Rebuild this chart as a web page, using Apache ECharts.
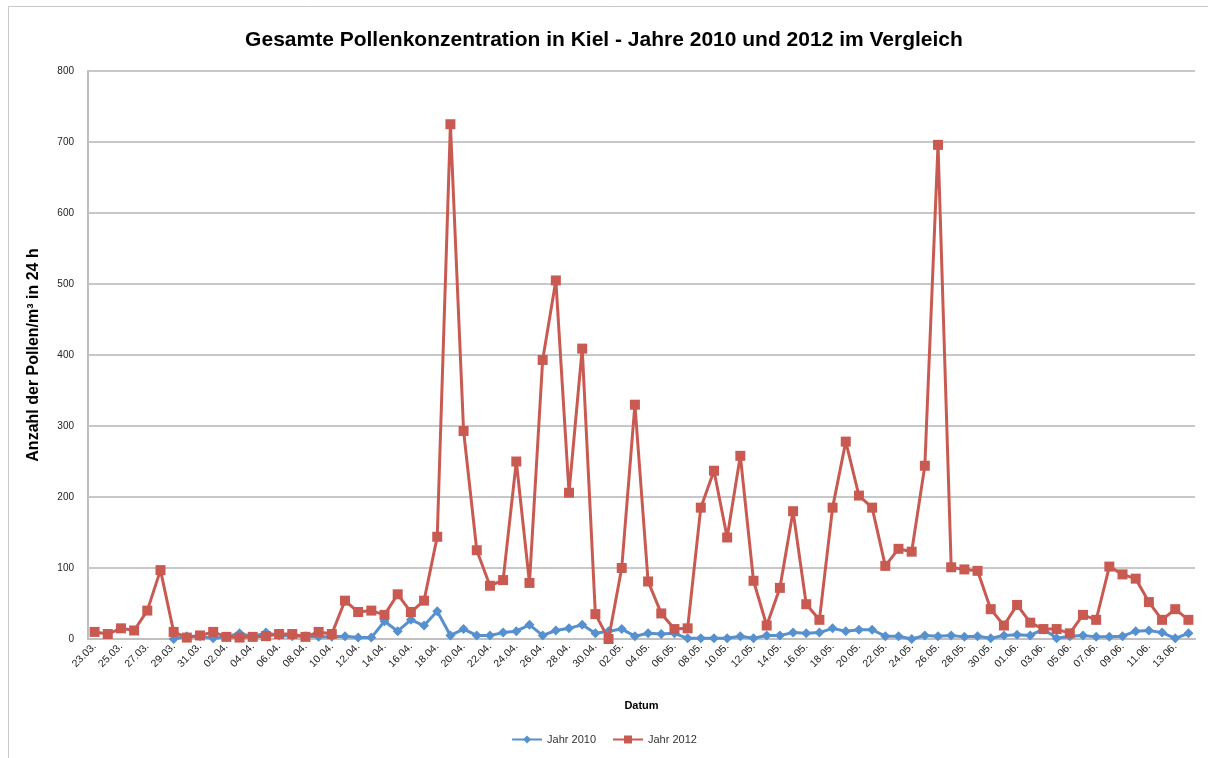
<!DOCTYPE html>
<html>
<head>
<meta charset="utf-8">
<script src="https://cdn.jsdelivr.net/npm/echarts@6/dist/echarts.min.js"></script>
<style>html,body{margin:0;padding:0;background:#fff;}#c{width:1208px;height:758px;}</style>
</head>
<body>
<div id="c"></div>
<script>
const categories = [
  '23.03.','24.03.','25.03.','26.03.','27.03.','28.03.','29.03.','30.03.','31.03.',
  '01.04.','02.04.','03.04.','04.04.','05.04.','06.04.','07.04.','08.04.','09.04.','10.04.',
  '11.04.','12.04.','13.04.','14.04.','15.04.','16.04.','17.04.','18.04.','19.04.','20.04.',
  '21.04.','22.04.','23.04.','24.04.','25.04.','26.04.','27.04.','28.04.','29.04.','30.04.',
  '01.05.','02.05.','03.05.','04.05.','05.05.','06.05.','07.05.','08.05.','09.05.','10.05.',
  '11.05.','12.05.','13.05.','14.05.','15.05.','16.05.','17.05.','18.05.','19.05.','20.05.',
  '21.05.','22.05.','23.05.','24.05.','25.05.','26.05.','27.05.','28.05.','29.05.','30.05.','31.05.',
  '01.06.','02.06.','03.06.','04.06.','05.06.','06.06.','07.06.','08.06.','09.06.','10.06.',
  '11.06.','12.06.','13.06.','14.06.'
];
const jahr2010 = [
  null,null,null,null,null,null,
  0,4,4,1,3,8,3,9,5,4,4,3,3,4,2,
  2,25,11,27,19,39,5,14,5,5,9,11,20,5,12,15,20,8,11,14,4,
  8,7,8,1,1,1,1,4,1,5,5,9,8,9,15,11,13,13,4,4,0,
  5,4,5,3,4,1,5,6,5,14,1,4,5,3,3,4,11,12,9,1,8
];
const jahr2012 = [
  10,7,15,12,40,97,10,2,5,10,3,2,3,4,7,7,3,10,7,54,38,40,34,63,38,54,144,725,293,125,
  75,83,250,79,393,505,206,409,35,0,100,330,81,36,14,15,185,237,143,258,82,19,72,180,49,27,185,278,202,
  185,103,127,123,244,696,101,98,96,42,19,48,23,14,14,8,34,27,102,91,85,52,27,42,27
];
const yTicks = { min: 0, max: 800, interval: 100 };

const chart = echarts.init(document.getElementById('c'));
const sans = '"Liberation Sans", Arial, sans-serif';
chart.setOption({
  animation: false,
  backgroundColor: '#ffffff',
  graphic: [{
    type: 'rect', silent: true,
    shape: { x: 8.5, y: 6.5, width: 1220, height: 780 },
    style: { fill: 'none', stroke: '#c8c8c8', lineWidth: 1 }
  }],
  title: {
    text: 'Gesamte Pollenkonzentration in Kiel - Jahre 2010 und 2012 im Vergleich',
    left: 'center', top: 25,
    textStyle: { fontFamily: sans, fontSize: 21, fontWeight: 'bold', color: '#000' }
  },
  legend: {
    bottom: 8, left: 'center',
    itemWidth: 30, itemHeight: 10, itemGap: 16,
    textStyle: { fontFamily: sans, fontSize: 11, color: '#333' },
    data: ['Jahr 2010', 'Jahr 2012']
  },
  grid: { left: 88, right: 13, top: 71, bottom: 119, containLabel: false },
  xAxis: {
    type: 'category',
    data: categories,
    boundaryGap: true,
    name: 'Datum', nameLocation: 'middle', nameGap: 61,
    nameTextStyle: { fontFamily: sans, fontSize: 11, fontWeight: 'bold', color: '#000' },
    axisLine: { lineStyle: { color: '#c0c0c0', width: 2 } },
    axisTick: { show: false },
    axisLabel: { interval: 1, rotate: 45, fontFamily: sans, fontSize: 10.5, color: '#222', margin: 6 }
  },
  yAxis: {
    type: 'value',
    min: yTicks.min, max: yTicks.max, interval: yTicks.interval,
    name: 'Anzahl der Pollen/m³ in 24 h', nameLocation: 'middle', nameGap: 46,
    nameTextStyle: { fontFamily: sans, fontSize: 16, fontWeight: 'bold', color: '#000' },
    axisLine: { show: true, lineStyle: { color: '#c0c0c0', width: 2 } },
    axisTick: { show: false },
    splitLine: { lineStyle: { color: '#c8c8c8', width: 2 } },
    axisLabel: { fontFamily: sans, fontSize: 10, color: '#222', margin: 14 }
  },
  series: [
    {
      name: 'Jahr 2010', type: 'line', data: jahr2010,
      symbol: 'diamond', symbolSize: 10, showAllSymbol: true, connectNulls: false,
      lineStyle: { color: '#5690CE', width: 3 },
      itemStyle: { color: '#5690CE' },
      z: 2
    },
    {
      name: 'Jahr 2012', type: 'line', data: jahr2012,
      symbol: 'rect', symbolSize: 10, showAllSymbol: true,
      lineStyle: { color: '#C95A51', width: 3 },
      itemStyle: { color: '#C95A51' },
      z: 3
    }
  ]
});
</script>
</body>
</html>
